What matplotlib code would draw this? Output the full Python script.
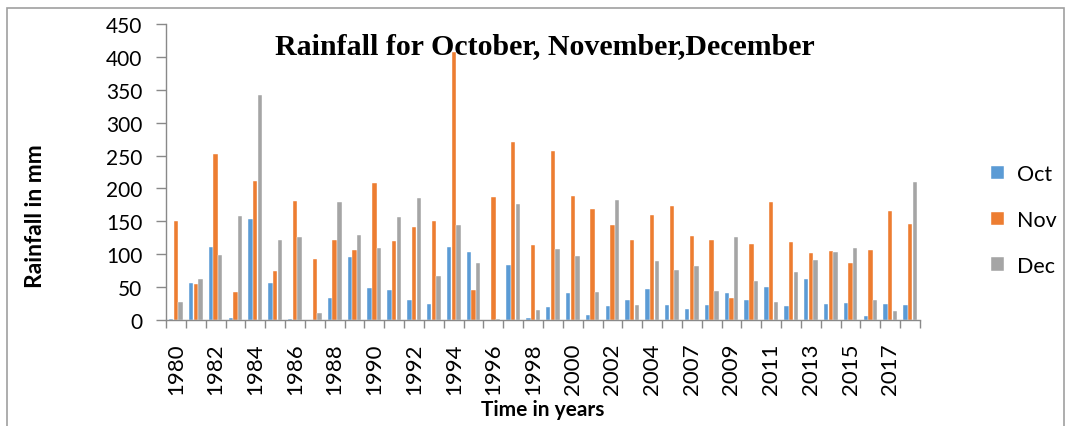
import matplotlib.pyplot as plt
import numpy as np
from matplotlib.patches import Rectangle

years = [str(y) for y in range(1980, 2006)] + [str(y) for y in range(2007, 2019)]
oct_rain = [1, 57, 111, 3, 154, 56, 2, 0, 33, 96, 48, 46, 30, 25, 111, 104, 0, 83, 3,
            20, 41, 7, 21, 31, 47, 23, 17, 23, 41, 31, 50, 22, 63, 24, 26, 6, 25, 23]
nov_rain = [151, 55, 252, 43, 211, 75, 181, 93, 121, 106, 209, 120, 141, 151, 407, 46, 187, 271, 114,
            257, 189, 169, 144, 121, 160, 174, 127, 122, 33, 115, 180, 119, 102, 105, 87, 107, 166, 146]
dec_rain = [27, 63, 99, 158, 342, 121, 126, 11, 180, 129, 110, 157, 186, 67, 144, 87, 1, 177, 15,
            108, 98, 43, 182, 23, 89, 76, 82, 44, 126, 59, 27, 73, 91, 103, 109, 31, 13, 210]
series = ['Oct', 'Nov', 'Dec']
colors = ['#5B9BD5', '#ED7D31', '#A5A5A5']

font = 'Lato'
axis_grey = '#898989'

fig = plt.figure(figsize=(10.72, 4.27), dpi=100)
# outer frame like the Excel chart area
fig.patches.append(Rectangle((7 / 1072, -0.05), 1057 / 1072, 1.05 - 9 / 427,
                             transform=fig.transFigure, fill=False,
                             edgecolor='#A0A0A0', linewidth=1.2))

ax = fig.add_axes([166 / 1072, 1 - 321 / 427, 754 / 1072, 296 / 427])
x = np.arange(len(years))
w = 0.22
for k, (vals, lab, c) in enumerate(zip([oct_rain, nov_rain, dec_rain], series, colors)):
    ax.bar(x + (k - 1) * 0.235, vals, width=w, color=c, label=lab,
           edgecolor='white', linewidth=0.3)

ax.set_xlim(-0.5, len(years) - 0.5)
ax.set_ylim(0, 450)
ax.set_yticks(np.arange(0, 451, 50))
ax.set_xticks(np.arange(-0.5, len(years), 1))
ax.set_xticklabels([])
ax.set_xticks(x[::2], minor=True)
ax.set_xticklabels(years[::2], minor=True, rotation=90, fontsize=16, family=font)
ax.tick_params(axis='x', which='major', length=6, color=axis_grey, width=1)
ax.tick_params(axis='x', which='minor', length=0, pad=16)
ax.tick_params(axis='y', length=7, color=axis_grey, width=1, labelsize=15, pad=10)
for t in ax.get_yticklabels():
    t.set_family(font)
for s in ['top', 'right']:
    ax.spines[s].set_visible(False)
for s in ['left', 'bottom']:
    ax.spines[s].set_color(axis_grey)
    ax.spines[s].set_linewidth(1)

ax.set_ylabel('Rainfall in mm', fontsize=16.5, fontweight='bold', family=font, va='center')
ax.yaxis.set_label_coords((35 - 166) / 754, (321 - 216) / 296)
ax.set_xlabel('Time in years', fontsize=15, fontweight='bold', family=font, va='center')
ax.xaxis.set_label_coords(0.5, -(410 - 321) / 296)

fig.text(545 / 1072, 1 - 47 / 427, 'Rainfall for October, November,December',
         ha='center', va='center', fontsize=21.5, fontweight='bold', family='Liberation Serif')

fig.legend(loc='center left', bbox_to_anchor=(972 / 1072, 1 - 221 / 427), frameon=False,
           prop={'family': font, 'size': 15.5}, handlelength=0.6, handleheight=0.6,
           handletextpad=0.6, labelspacing=1.2)

fig.savefig('out.png', dpi=100)
